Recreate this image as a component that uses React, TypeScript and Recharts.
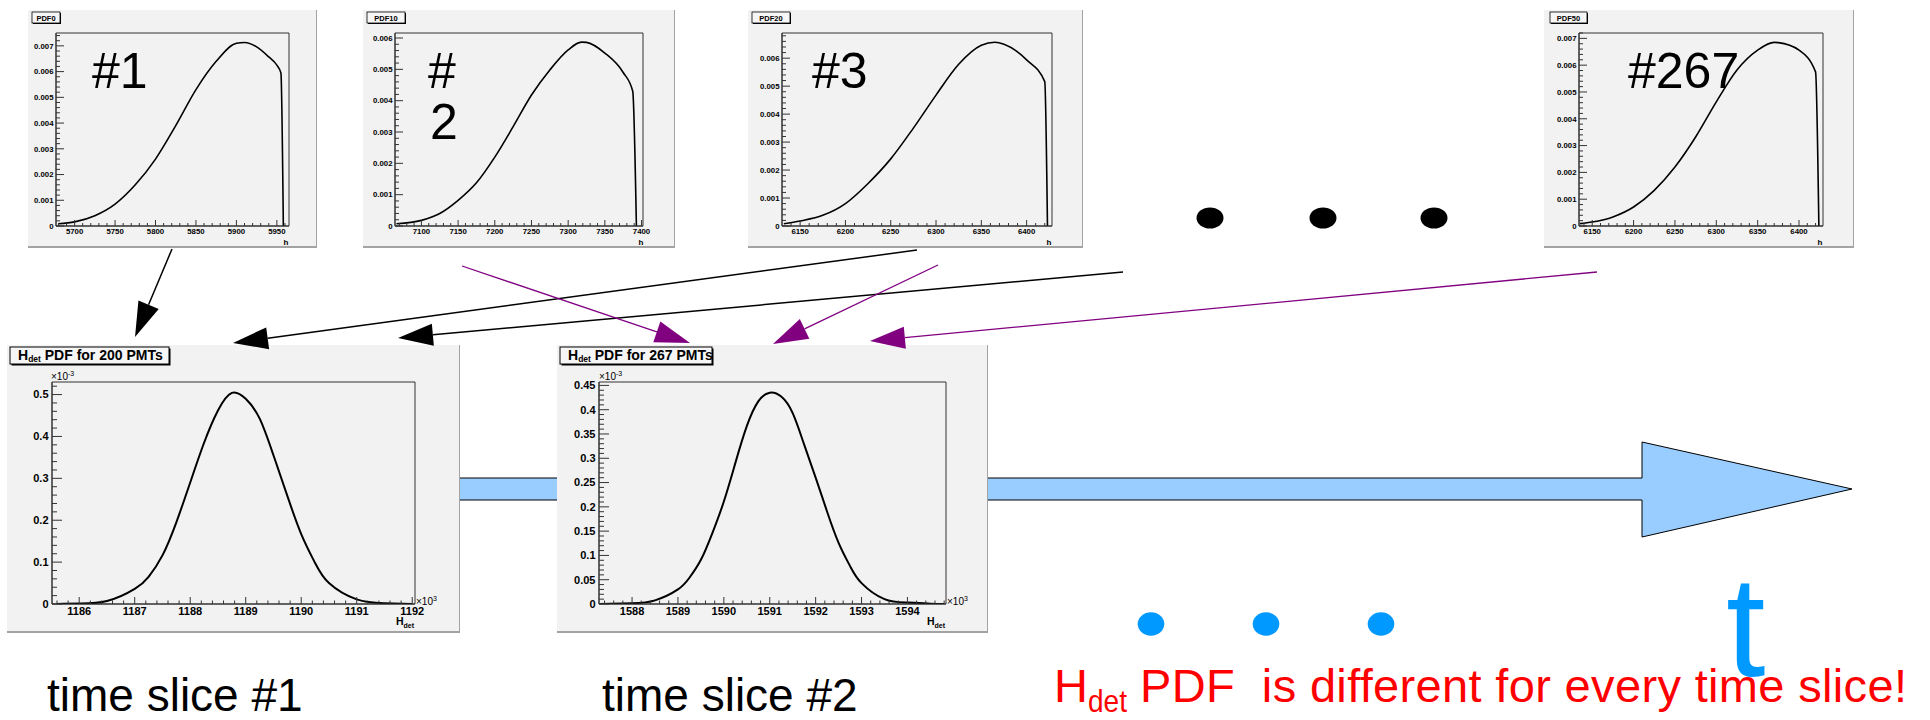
import React from 'react';
import { LineChart, Line, XAxis, YAxis, ReferenceArea } from 'recharts';

const FONT = '"Liberation Sans", Arial, Helvetica, sans-serif';

// ---------- data ----------
// PDF0 (#1)
const pdf0H = [5680, 5700, 5725, 5750, 5775, 5800, 5825, 5850, 5875, 5900, 5910, 5925, 5940, 5950, 5955, 5958];
const pdf0P = [0.00009, 0.00016, 0.0004, 0.00085, 0.0016, 0.0026, 0.0039, 0.0053, 0.0064, 0.0071, 0.00713, 0.00696, 0.00657, 0.00625, 0.00595, 0];
const pdf0XTicks = [5700, 5750, 5800, 5850, 5900, 5950];
const pdf0YTicks = [0, 0.001, 0.002, 0.003, 0.004, 0.005, 0.006, 0.007];

// PDF10 (#2)
const pdf10H = [7066, 7100, 7125, 7150, 7175, 7200, 7225, 7250, 7275, 7300, 7318, 7325, 7350, 7375, 7388, 7393];
const pdf10P = [0.00007, 0.00018, 0.0004, 0.00082, 0.00138, 0.0022, 0.00317, 0.00418, 0.00498, 0.00562, 0.00587, 0.00586, 0.00552, 0.0049, 0.0043, 0];
const pdf10XTicks = [7100, 7150, 7200, 7250, 7300, 7350, 7400];
const pdf10YTicks = [0, 0.001, 0.002, 0.003, 0.004, 0.005, 0.006];

// PDF20 (#3)
const pdf20H = [6132, 6150, 6175, 6200, 6225, 6250, 6275, 6300, 6325, 6350, 6365, 6375, 6400, 6420, 6423];
const pdf20P = [0.00008, 0.00018, 0.00038, 0.0008, 0.00152, 0.0024, 0.0035, 0.00468, 0.00578, 0.00646, 0.00657, 0.0065, 0.00594, 0.00516, 0];
const pdf20XTicks = [6150, 6200, 6250, 6300, 6350, 6400];
const pdf20YTicks = [0, 0.001, 0.002, 0.003, 0.004, 0.005, 0.006];

// PDF50 (#267)
const pdf50H = [6135, 6150, 6175, 6200, 6225, 6250, 6275, 6300, 6325, 6350, 6370, 6375, 6400, 6420, 6424];
const pdf50P = [0.00009, 0.00015, 0.00034, 0.00071, 0.00133, 0.0022, 0.00332, 0.00463, 0.00582, 0.00656, 0.00685, 0.00684, 0.00656, 0.00575, 0];
const pdf50XTicks = [6150, 6200, 6250, 6300, 6350, 6400];
const pdf50YTicks = [0, 0.001, 0.002, 0.003, 0.004, 0.005, 0.006, 0.007];

// H_det PDF for 200 PMTs (x in 10^3, y in 10^-3)
const hdet200X = [1185.6, 1186, 1186.5, 1187, 1187.25, 1187.5, 1187.75, 1188, 1188.25, 1188.5, 1188.75, 1189, 1189.25, 1189.5, 1189.75, 1190, 1190.25, 1190.5, 1191, 1191.5, 1192];
const hdet200Y = [0, 0.001, 0.007, 0.036, 0.065, 0.116, 0.195, 0.29, 0.385, 0.462, 0.504, 0.49, 0.443, 0.355, 0.258, 0.167, 0.098, 0.05, 0.011, 0.002, 0];
const hdet200XTicks = [1186, 1187, 1188, 1189, 1190, 1191, 1192];
const hdet200YTicks = [0, 0.1, 0.2, 0.3, 0.4, 0.5];

// H_det PDF for 267 PMTs
const hdet267X = [1587.3, 1588, 1588.5, 1589, 1589.25, 1589.5, 1589.75, 1590, 1590.25, 1590.5, 1590.75, 1591, 1591.25, 1591.5, 1591.75, 1592, 1592.25, 1592.5, 1592.75, 1593, 1593.5, 1594, 1594.5, 1594.8];
const hdet267Y = [0, 0.0014, 0.0075, 0.03, 0.054, 0.091, 0.146, 0.211, 0.29, 0.366, 0.417, 0.435, 0.427, 0.393, 0.328, 0.26, 0.19, 0.126, 0.078, 0.043, 0.01, 0.003, 0.0007, 0];
const hdet267XTicks = [1588, 1589, 1590, 1591, 1592, 1593, 1594];
const hdet267YTicks = [0, 0.05, 0.1, 0.15, 0.2, 0.25, 0.3, 0.35, 0.4, 0.45];

// ---------- helpers ----------
const rows = (xs: number[], ys: number[]) => xs.map((x, i) => ({ x, y: ys[i] }));

function range(start: number, stop: number, step: number): number[] {
  const out: number[] = [];
  const n = Math.round((stop - start) / step);
  for (let i = 0; i <= n; i++) out.push(+(start + i * step).toFixed(7));
  return out;
}

function merge(major: number[], minor: number[]): number[] {
  const m = new Map<string, number>();
  [...major, ...minor].forEach((v) => m.set(v.toFixed(7), v));
  return Array.from(m.values()).sort((a, b) => a - b);
}

type Cfg = {
  left: number; top: number; width: number; height: number;
  margin: { top: number; right: number; bottom: number; left: number };
  data: { x: number; y: number }[];
  xDomain: [number, number]; yDomain: [number, number];
  xMajor: number[]; xMinor: number[]; xStep: number;
  yMajor: number[]; yMinor: number[]; yStep: number;
  font: number; xLabOff: number; yGap: number;
  xLen: [number, number]; yLen: [number, number];
  fmtX: (v: number) => string; fmtY: (v: number) => string;
  lw: number; curve: 'monotone' | 'natural';
};

const fmtTopY = (v: number) => (v === 0 ? '0' : v.toFixed(3));
const fmtBotY = (v: number) => (v === 0 ? '0' : String(+v.toFixed(2)));
const fmtInt = (v: number) => String(Math.round(v));

const topCommon = {
  top: 10, height: 238,
  font: 7.8, xLabOff: 8, yGap: 2.5,
  xLen: [6, 3] as [number, number], yLen: [8, 4] as [number, number],
  fmtX: fmtInt, fmtY: fmtTopY, lw: 1.6,
  xStep: 10, yStep: 0.0002, curve: 'monotone' as const,
};
const botCommon = {
  top: 345, height: 288,
  font: 11, xLabOff: 11, yGap: 3.5,
  xLen: [7, 3.5] as [number, number], yLen: [10, 5] as [number, number],
  fmtX: fmtInt, fmtY: fmtBotY, lw: 2,
  xStep: 0.2, curve: 'natural' as const,
};

// margins: left/bottom reduced by 1 for the 1px axis width/height
const panels: Cfg[] = [
  {
    ...topCommon, left: 28, width: 289,
    margin: { top: 23, right: 28, bottom: 21, left: 27 },
    data: rows(pdf0H, pdf0P), xDomain: [5677, 5965], yDomain: [0, 0.0075],
    xMajor: pdf0XTicks, xMinor: range(5680, 5960, 10),
    yMajor: pdf0YTicks, yMinor: range(0, 0.0074, 0.0002),
  },
  {
    ...topCommon, left: 363, width: 312,
    margin: { top: 23, right: 32, bottom: 21, left: 31 },
    data: rows(pdf10H, pdf10P), xDomain: [7064, 7402], yDomain: [0, 0.00616],
    xMajor: pdf10XTicks, xMinor: range(7070, 7400, 10),
    yMajor: pdf10YTicks, yMinor: range(0, 0.006, 0.0002),
  },
  {
    ...topCommon, left: 748, width: 335,
    margin: { top: 23, right: 31, bottom: 21, left: 33 },
    data: rows(pdf20H, pdf20P), xDomain: [6130, 6428], yDomain: [0, 0.0069],
    xMajor: pdf20XTicks, xMinor: range(6140, 6420, 10),
    yMajor: pdf20YTicks, yMinor: range(0, 0.0068, 0.0002),
  },
  {
    ...topCommon, left: 1544, width: 310,
    margin: { top: 23, right: 31, bottom: 21, left: 34 },
    data: rows(pdf50H, pdf50P), xDomain: [6134, 6429], yDomain: [0, 0.0072],
    xMajor: pdf50XTicks, xMinor: range(6140, 6420, 10),
    yMajor: pdf50YTicks, yMinor: range(0, 0.0072, 0.0002),
  },
  {
    ...botCommon, left: 7, width: 453, yStep: 0.02,
    margin: { top: 37, right: 45, bottom: 28, left: 44 },
    data: rows(hdet200X, hdet200Y), xDomain: [1185.51, 1192.05], yDomain: [0, 0.53],
    xMajor: hdet200XTicks, xMinor: range(1185.6, 1192, 0.2),
    yMajor: hdet200YTicks, yMinor: range(0, 0.52, 0.02),
  },
  {
    ...botCommon, left: 557, width: 431, yStep: 0.01,
    margin: { top: 37, right: 42, bottom: 28, left: 41 },
    data: rows(hdet267X, hdet267Y), xDomain: [1587.28, 1594.84], yDomain: [0, 0.457],
    xMajor: hdet267XTicks, xMinor: range(1587.4, 1594.8, 0.2),
    yMajor: hdet267YTicks, yMinor: range(0, 0.45, 0.01),
  },
];

function Panel({ c }: { c: Cfg }) {
  const ticksX = merge(c.xMajor, c.xMinor);
  const ticksY = merge(c.yMajor, c.yMinor);
  const isMaj = (arr: number[], v: number, step: number) => arr.some((m) => Math.abs(m - v) < step / 100);
  const XTick = (p: any) => {
    const v = p.payload.value;
    const maj = isMaj(c.xMajor, v, c.xStep);
    const len = maj ? c.xLen[0] : c.xLen[1];
    return (
      <g>
        <line x1={p.x} x2={p.x} y1={p.y} y2={p.y - len} stroke="#333" strokeWidth={1} />
        {maj && (
          <text x={p.x} y={p.y + c.xLabOff} textAnchor="middle" fontSize={c.font} fontWeight="bold" fontFamily={FONT} fill="#000">
            {c.fmtX(v)}
          </text>
        )}
      </g>
    );
  };
  const YTick = (p: any) => {
    const v = p.payload.value;
    const maj = isMaj(c.yMajor, v, c.yStep);
    const len = maj ? c.yLen[0] : c.yLen[1];
    return (
      <g>
        <line x1={p.x} x2={p.x + len} y1={p.y} y2={p.y} stroke="#333" strokeWidth={1} />
        {maj && (
          <text x={p.x - c.yGap} y={p.y} dy="0.35em" textAnchor="end" fontSize={c.font} fontWeight="bold" fontFamily={FONT} fill="#000">
            {c.fmtY(v)}
          </text>
        )}
      </g>
    );
  };
  return (
    <div
      style={{
        position: 'absolute', left: c.left, top: c.top, width: c.width, height: c.height,
        background: '#f2f2f2', boxShadow: 'inset -1px -2px 0 #a3a3a3',
      }}
    >
      <LineChart width={c.width} height={c.height} data={c.data} margin={c.margin}>
        <XAxis
          dataKey="x" type="number" domain={c.xDomain} allowDataOverflow ticks={ticksX} interval={0}
          tick={XTick} tickLine={false} tickSize={0} tickMargin={0} height={1} axisLine={{ stroke: '#333' }}
        />
        <YAxis
          type="number" domain={c.yDomain} allowDataOverflow ticks={ticksY} interval={0}
          tick={YTick} tickLine={false} tickSize={0} tickMargin={0} width={1} axisLine={{ stroke: '#333' }}
        />
        <ReferenceArea
          x1={c.xDomain[0]} x2={c.xDomain[1]} y1={c.yDomain[0]} y2={c.yDomain[1]}
          fill="none" stroke="#333" strokeWidth={1} ifOverflow="visible"
        />
        <Line type={c.curve} dataKey="y" stroke="#000" strokeWidth={c.lw} dot={false} isAnimationActive={false} />
      </LineChart>
    </div>
  );
}

// ---------- decorations ----------
const pdfBoxes = [
  { x: 32, w: 28, label: 'PDF0' },
  { x: 367, w: 38, label: 'PDF10' },
  { x: 752, w: 38, label: 'PDF20' },
  { x: 1550, w: 37, label: 'PDF50' },
];
const hTitles = [286, 641, 1049, 1820];

const connectors = [
  { from: [172, 249], to: [135, 337], color: '#000', w: 1.5 },
  { from: [917, 250], to: [233, 343], color: '#000', w: 1.5 },
  { from: [1123, 272], to: [398, 338], color: '#000', w: 1.5 },
  { from: [462, 266], to: [690, 343], color: '#800080', w: 1.3 },
  { from: [938, 265], to: [773, 344], color: '#800080', w: 1.3 },
  { from: [1597, 272], to: [870, 341], color: '#800080', w: 1.3 },
];

function headPts(x1: number, y1: number, x2: number, y2: number, len = 35, hw = 11) {
  const dx = x2 - x1, dy = y2 - y1;
  const d = Math.hypot(dx, dy);
  const ux = dx / d, uy = dy / d;
  const bx = x2 - ux * len, by = y2 - uy * len;
  return {
    pts: `${x2},${y2} ${bx - uy * hw},${by + ux * hw} ${bx + uy * hw},${by - ux * hw}`,
    bx, by,
  };
}

function Overlay() {
  return (
    <svg width={1930} height={720} style={{ position: 'absolute', left: 0, top: 0, pointerEvents: 'none' }}>
      {pdfBoxes.map((b) => (
        <g key={b.label}>
          <rect x={b.x + 1} y={13} width={b.w} height={11} fill="#000" />
          <rect x={b.x} y={12} width={b.w} height={11} fill="#f6f6f6" stroke="#000" strokeWidth={0.8} />
          <text x={b.x + b.w / 2} y={20.8} textAnchor="middle" fontSize={7.5} fontWeight="bold" fontFamily={FONT}>{b.label}</text>
        </g>
      ))}
      {hTitles.map((x, i) => (
        <text key={i} x={x} y={245} textAnchor="middle" fontSize={8} fontWeight="bold" fontFamily={FONT}>h</text>
      ))}
      <g fontFamily={FONT} fontSize={50} fill="#000">
        <text x={92} y={88}>#1</text>
        <text x={428} y={88}>#</text>
        <text x={430} y={139}>2</text>
        <text x={812} y={88}>#3</text>
        <text x={1628} y={88}>#267</text>
      </g>
      {[1210, 1323, 1434].map((x) => (
        <ellipse key={x} cx={x} cy={218} rx={13.5} ry={10.5} fill="#000" />
      ))}
      {[
        { x: 10, w: 159, txt: ' PDF for 200 PMTs' },
        { x: 560, w: 152, txt: ' PDF for 267 PMTs' },
      ].map((t) => (
        <g key={t.x}>
          <rect x={t.x + 1.5} y={348.5} width={t.w} height={17} fill="#000" />
          <rect x={t.x} y={347} width={t.w} height={17} fill="#f6f6f6" stroke="#000" strokeWidth={1} />
          <text x={t.x + 8} y={359.5} fontSize={14} fontWeight="bold" fontFamily={FONT} style={{ whiteSpace: 'pre' }}>
            <tspan>H</tspan>
            <tspan fontSize={8.5} dy={2.5}>det</tspan>
            <tspan dy={-2.5}>{t.txt}</tspan>
          </text>
        </g>
      ))}
      {[
        { yx: 51, xx: 416, hx: 396 },
        { yx: 599, xx: 947, hx: 927 },
      ].map((e) => (
        <g key={e.yx} fontFamily={FONT} fill="#000">
          <text x={e.yx} y={380} fontSize={10}>
            ×10<tspan fontSize={7} dy={-4}>-3</tspan>
          </text>
          <text x={e.xx} y={605} fontSize={10}>
            ×10<tspan fontSize={7} dy={-4}>3</tspan>
          </text>
          <text x={e.hx} y={625} fontSize={10.5} fontWeight="bold">
            H<tspan fontSize={7} dy={3}>det</tspan>
          </text>
        </g>
      ))}
      {connectors.map((a, i) => {
        const h = headPts(a.from[0], a.from[1], a.to[0], a.to[1]);
        return (
          <g key={i}>
            <line x1={a.from[0]} y1={a.from[1]} x2={h.bx} y2={h.by} stroke={a.color} strokeWidth={a.w} />
            <polygon points={h.pts} fill={a.color} />
          </g>
        );
      })}
      {[1151, 1266, 1381].map((x) => (
        <ellipse key={x} cx={x} cy={624} rx={13.3} ry={11.7} fill="#0099ff" />
      ))}
      <text x={1726} y={676} fontSize={142} fontFamily={FONT} fill="#0099ff">t</text>
      <g fontFamily={FONT} fontSize={46} fill="#000">
        <text x={47} y={711}>time slice #1</text>
        <text x={602} y={711}>time slice #2</text>
      </g>
      <g fontFamily={FONT} fill="#ff0000">
        <text x={1054} y={702} fontSize={47}>H</text>
        <text x={1088} y={712} fontSize={32} textLength={39} lengthAdjust="spacingAndGlyphs">det</text>
        <text x={1140} y={702} fontSize={47} style={{ whiteSpace: 'pre' }} textLength={767} lengthAdjust="spacing">
          PDF  is different for every time slice!
        </text>
      </g>
    </svg>
  );
}

function TimeArrow() {
  const pts = '300,478 1642,478 1642,442 1852,489 1642,537 1642,500 300,500';
  return (
    <svg width={1930} height={720} style={{ position: 'absolute', left: 0, top: 0 }}>
      <polygon points={pts} fill="#99ccff" stroke="#000" strokeWidth={1} />
    </svg>
  );
}

export default function App() {
  return (
    <div style={{ position: 'absolute', left: 0, top: 0, width: 1930, height: 720, background: '#fff', overflow: 'hidden', fontFamily: FONT }}>
      <TimeArrow />
      {panels.map((c, i) => (
        <Panel key={i} c={c} />
      ))}
      <Overlay />
    </div>
  );
}
